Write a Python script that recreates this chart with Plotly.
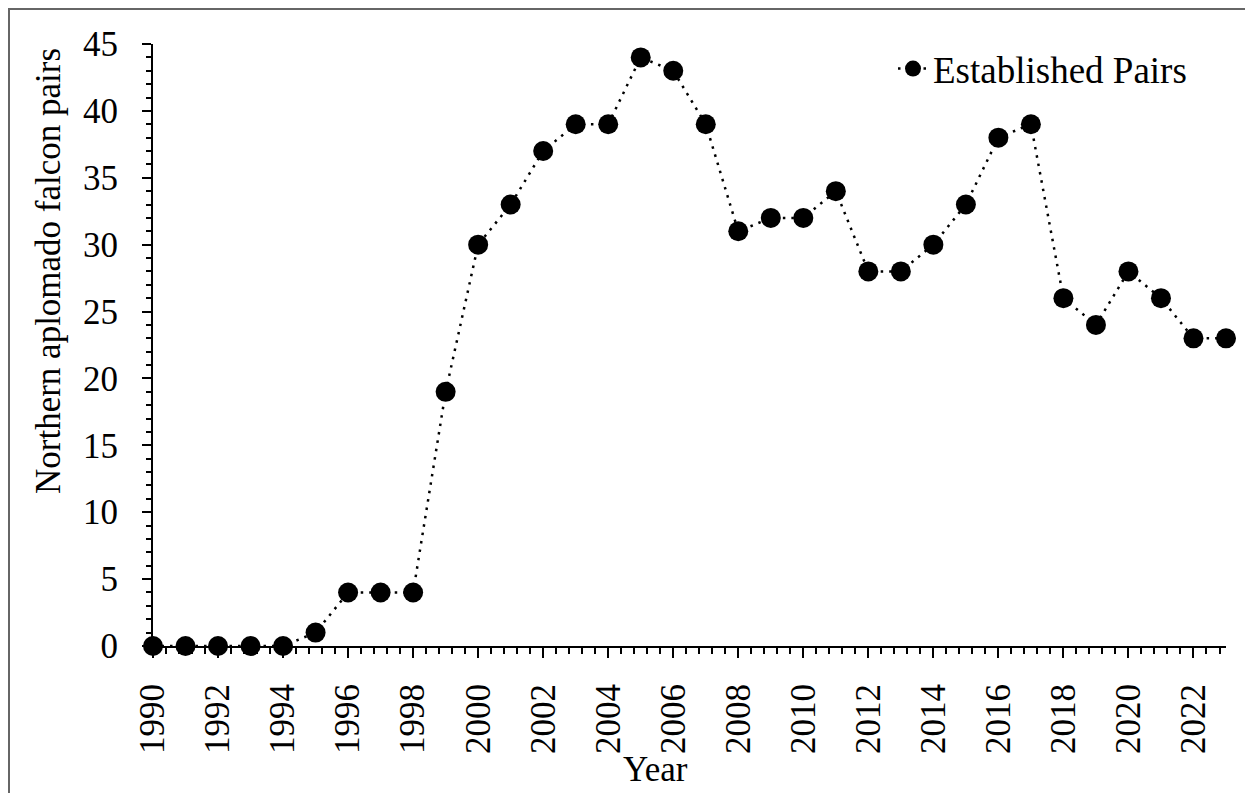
import plotly.graph_objects as go

years = list(range(1990, 2024))
pairs = [0, 0, 0, 0, 0, 1, 4, 4, 4, 19, 30, 33, 37, 39, 39, 44, 43, 39, 31, 32,
         32, 34, 28, 28, 30, 33, 38, 39, 26, 24, 28, 26, 23, 23]
series_name = "Established Pairs"
x_title = "Year"
y_title = "Northern aplomado falcon pairs"

FONT = "Liberation Serif"
W, H = 1245, 785
L, R, T, B = 145, 27, 36, 147
pw, ph = W - L - R, H - T - B

fig = go.Figure()
fig.add_trace(go.Scatter(
    x=years, y=pairs, name=series_name, mode="lines+markers",
    line=dict(color="black", width=2.5, dash="2.5px,6px"),
    marker=dict(color="black", size=20),
    cliponaxis=False,
))

def px_x(p):
    return (p - L) / pw

def px_y(p):
    return (H - B - p) / ph

fig.add_shape(type="rect", xref="paper", yref="paper",
              x0=px_x(1), x1=px_x(1262), y0=px_y(1), y1=px_y(805),
              line=dict(color="#666666", width=2), layer="below")

tfont = dict(family=FONT, size=35, color="black")

fig.add_annotation(text=y_title, xref="paper", yref="paper",
                   x=px_x(40), y=px_y(263), xanchor="center", yanchor="middle",
                   textangle=-90, showarrow=False, font=tfont)
fig.add_annotation(text=x_title, xref="paper", yref="paper",
                   x=px_x(647), y=px_y(761), xanchor="center", yanchor="middle",
                   showarrow=False, font=tfont)

fig.update_layout(
    width=W, height=H,
    margin=dict(l=L, r=R, t=T, b=B),
    paper_bgcolor="white", plot_bgcolor="white",
    font=tfont,
    showlegend=True,
    legend=dict(x=px_x(885), y=px_y(30), xanchor="left", yanchor="top",
                bgcolor="rgba(0,0,0,0)",
                font=dict(family=FONT, size=37, color="black")),
    xaxis=dict(
        range=[1990, 2023], tickmode="linear", tick0=1990, dtick=2,
        tickangle=-90, showgrid=False, zeroline=False,
        showline=True, linecolor="black", linewidth=2,
        ticks="outside", ticklen=10, tickwidth=2, tickcolor="black",
        minor=dict(ticks="outside", ticklen=6, tickwidth=2, tickcolor="black",
                   tick0=1990, dtick=0.4, showgrid=False),
        tickfont=tfont, ticklabelstandoff=12,
    ),
    yaxis=dict(
        range=[0, 45], tickmode="linear", tick0=0, dtick=5,
        showgrid=False, zeroline=False,
        showline=True, linecolor="black", linewidth=2,
        ticks="outside", ticklen=9, tickwidth=2, tickcolor="black",
        minor=dict(ticks="outside", ticklen=5, tickwidth=2, tickcolor="black",
                   tick0=0, dtick=1, showgrid=False),
        tickfont=tfont, ticklabelstandoff=17,
    ),
)

fig.write_html("out.html")
